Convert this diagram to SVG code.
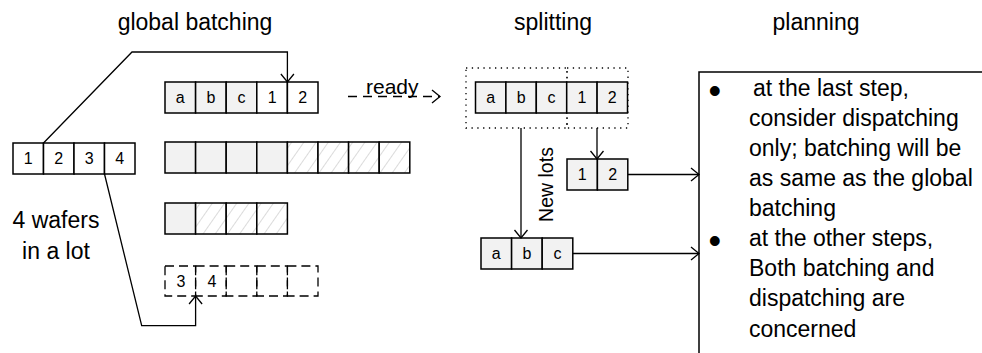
<svg xmlns="http://www.w3.org/2000/svg" width="982" height="353" viewBox="0 0 982 353">
<style>
  text { font-family: "Liberation Sans", Arial, sans-serif; fill: #000; }
  .t { font-size: 23px; }
  .b { font-size: 36px; }
  .c { font-size: 16px; text-anchor: middle; }
  .g { fill: #f2f2f2; stroke: #000; stroke-width: 1.5; }
  .w { fill: #fff; stroke: #000; stroke-width: 1.5; }
  .h { fill: url(#hatch); stroke: #000; stroke-width: 1.5; }
  .d { fill: none; stroke: #000; stroke-width: 1.3; stroke-dasharray: 9 5; }
  .dot { fill: none; stroke: #000; stroke-width: 1.3; stroke-dasharray: 1.3 4.5; }
  .ln { fill: none; stroke: #000; stroke-width: 1.3; marker-end: url(#arr); }
  .lnd { fill: none; stroke: #000; stroke-width: 1.3; stroke-dasharray: 9 6; marker-end: url(#arr); }
</style>
<defs>
  <pattern id="hatch" patternUnits="userSpaceOnUse" width="10" height="10" patternTransform="rotate(35)">
    <rect width="10" height="10" fill="#fff"/>
    <line x1="0" y1="0" x2="0" y2="10" stroke="#c4c4c4" stroke-width="1.2"/>
  </pattern>
  <marker id="arr" viewBox="-10 -8 12 16" refX="0" refY="0" markerWidth="12" markerHeight="16" markerUnits="userSpaceOnUse" orient="auto">
    <path d="M-8,-6.5 L0,0 L-8,6.5" fill="none" stroke="#000" stroke-width="1.3"/>
  </marker>
</defs>
<rect width="982" height="353" fill="#fff"/>

<g id="titles">
  <text class="t" x="195" y="30" text-anchor="middle">global batching</text>
  <text class="t" x="553" y="30" text-anchor="middle">splitting</text>
  <text class="t" x="816" y="30" text-anchor="middle">planning</text>
</g>

<g id="lot">
  <rect class="w" x="13" y="143" width="30.5" height="31"/>
  <rect class="w" x="43.5" y="143" width="30.5" height="31"/>
  <rect class="w" x="74" y="143" width="30.5" height="31"/>
  <rect class="w" x="104.5" y="143" width="30.5" height="31"/>
  <text class="c" x="28.2" y="164">1</text>
  <text class="c" x="58.7" y="164">2</text>
  <text class="c" x="89.2" y="164">3</text>
  <text class="c" x="119.7" y="164">4</text>
</g>

<g id="lot-label">
  <text class="t" x="56" y="228" text-anchor="middle">4 wafers</text>
  <text class="t" x="56" y="259" text-anchor="middle">in a lot</text>
</g>

<g id="batch1">
  <rect class="g" x="165" y="82" width="30.6" height="31"/>
  <rect class="g" x="195.6" y="82" width="30.6" height="31"/>
  <rect class="g" x="226.2" y="82" width="30.6" height="31"/>
  <rect class="w" x="256.8" y="82" width="30.6" height="31"/>
  <rect class="w" x="287.4" y="82" width="30.6" height="31"/>
  <text class="c" x="180.3" y="103">a</text>
  <text class="c" x="210.9" y="103">b</text>
  <text class="c" x="241.5" y="103">c</text>
  <text class="c" x="272.1" y="103">1</text>
  <text class="c" x="302.7" y="103">2</text>
</g>

<g id="batch2">
  <rect class="g" x="165" y="142" width="30.6" height="31"/>
  <rect class="g" x="195.6" y="142" width="30.6" height="31"/>
  <rect class="g" x="226.2" y="142" width="30.6" height="31"/>
  <rect class="g" x="256.8" y="142" width="30.6" height="31"/>
  <rect class="h" x="287.4" y="142" width="30.6" height="31"/>
  <rect class="h" x="318" y="142" width="30.6" height="31"/>
  <rect class="h" x="348.6" y="142" width="30.6" height="31"/>
  <rect class="h" x="379.2" y="142" width="30.6" height="31"/>
</g>

<g id="batch3">
  <rect class="g" x="165" y="203" width="30.6" height="31"/>
  <rect class="h" x="195.6" y="203" width="30.6" height="31"/>
  <rect class="h" x="226.2" y="203" width="30.6" height="31"/>
  <rect class="h" x="256.8" y="203" width="30.6" height="31"/>
</g>

<g id="batch4">
  <rect class="d" x="165" y="266" width="30.6" height="30"/>
  <rect class="d" x="195.6" y="266" width="30.6" height="30"/>
  <rect class="d" x="226.2" y="266" width="30.6" height="30"/>
  <rect class="d" x="256.8" y="266" width="30.6" height="30"/>
  <rect class="d" x="287.4" y="266" width="30.6" height="30"/>
  <text class="c" x="181" y="287">3</text>
  <text class="c" x="212" y="287">4</text>
</g>

<g id="ready-label">
  <text x="366" y="94" font-size="21">ready</text>
</g>

<g id="split-batch">
  <rect class="dot" x="466" y="68" width="101" height="60"/>
  <rect class="dot" x="567" y="68" width="61" height="60"/>
  <rect class="g" x="475.5" y="82" width="30.4" height="31"/>
  <rect class="g" x="505.9" y="82" width="30.4" height="31"/>
  <rect class="g" x="536.3" y="82" width="30.4" height="31"/>
  <rect class="g" x="566.7" y="82" width="30.4" height="31"/>
  <rect class="g" x="597.1" y="82" width="30.4" height="31"/>
  <text class="c" x="490.7" y="103">a</text>
  <text class="c" x="521.1" y="103">b</text>
  <text class="c" x="551.5" y="103">c</text>
  <text class="c" x="581.9" y="103">1</text>
  <text class="c" x="612.3" y="103">2</text>
</g>

<g id="lot12">
  <rect class="g" x="567" y="159" width="30.4" height="31"/>
  <rect class="g" x="597.4" y="159" width="30.4" height="31"/>
  <text class="c" x="582.2" y="180">1</text>
  <text class="c" x="612.6" y="180">2</text>
</g>

<g id="lotabc">
  <rect class="g" x="481" y="238" width="30.6" height="31"/>
  <rect class="g" x="511.6" y="238" width="30.6" height="31"/>
  <rect class="g" x="542.2" y="238" width="30.6" height="31"/>
  <text class="c" x="496.3" y="259">a</text>
  <text class="c" x="526.9" y="259">b</text>
  <text class="c" x="557.5" y="259">c</text>
</g>

<g id="newlots-label">
  <text x="553" y="184.5" font-size="19.5" text-anchor="middle" transform="rotate(-90 553 184.5)">New lots</text>
</g>

<g id="planning">
  <rect x="699" y="72" width="320" height="320" fill="#fff" stroke="#000" stroke-width="1.5"/>
  <text class="b" x="708.5" y="102.5">•</text>
  <text class="t" x="753" y="96">at the last step,</text>
  <text class="t" x="749" y="126">consider dispatching</text>
  <text class="t" x="749" y="156">only; batching will be</text>
  <text class="t" x="749" y="186">as same as the global</text>
  <text class="t" x="749" y="216">batching</text>
  <text class="b" x="708.5" y="252.5">•</text>
  <text class="t" x="749" y="246">at the other steps,</text>
  <text class="t" x="749" y="276">Both batching and</text>
  <text class="t" x="749" y="306">dispatching are</text>
  <text class="t" x="749" y="337">concerned</text>
</g>

<g id="connectors">
  <polyline class="ln" points="43.5,143 132,52 287.4,52 287.4,82"/>
  <polyline class="ln" points="104.5,174 141.7,325.7 195.6,325.7 195.6,296"/>
  <line class="lnd" x1="348" y1="96.5" x2="440" y2="96.5"/>
  <line class="ln" x1="521" y1="128" x2="521" y2="238"/>
  <line class="ln" x1="597" y1="128" x2="597" y2="159"/>
  <line class="ln" x1="628" y1="174.5" x2="699" y2="174.5"/>
  <line class="ln" x1="573" y1="253.5" x2="699" y2="253.5"/>
</g>
</svg>
